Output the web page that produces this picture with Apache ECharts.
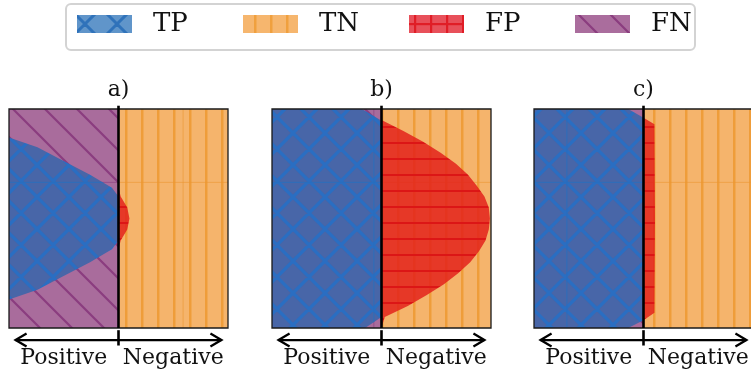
<!DOCTYPE html>
<html><head><meta charset="utf-8">
<script src="https://cdn.jsdelivr.net/npm/echarts@6/dist/echarts.min.js"></script>
<style>html,body{margin:0;padding:0;background:#fff}#chart{width:751px;height:376px}</style>
</head><body><div id="chart"></div>
<script>
// ---------- data ----------
const panelTitles = ['a)', 'b)', 'c)'];
const classNames = ['TP', 'TN', 'FP', 'FN'];
const sideLabels = ['Positive', 'Negative'];
// Boundary of the "predicted positive" region in each panel.
// y = vertical position (-1 bottom .. 1 top), x = horizontal extent (threshold at x = 0, -1 left edge, 1 right edge)
const boundaryAy = [0.74, 0.65, 0.53, 0.40, 0.28, 0.20, 0.10, 0.00, -0.10, -0.20, -0.28, -0.40, -0.53, -0.65, -0.74];
const boundaryAx = [-1.00, -0.74, -0.51, -0.26, -0.06, 0.02, 0.08, 0.10, 0.08, 0.02, -0.06, -0.26, -0.51, -0.74, -1.00];
const boundaryBy = [1.00, 0.90, 0.80, 0.70, 0.60, 0.50, 0.40, 0.30, 0.20, 0.10, 0.00, -0.10, -0.20, -0.30, -0.40, -0.50, -0.60, -0.70, -0.80, -0.90, -1.00];
const boundaryBx = [-0.18, -0.01, 0.20, 0.38, 0.54, 0.68, 0.79, 0.87, 0.94, 0.98, 0.99, 0.98, 0.95, 0.89, 0.81, 0.70, 0.57, 0.41, 0.24, 0.03, -0.15];
const boundaryCy = [1.00, 0.92, 0.86, 0.00, -0.86, -0.93, -1.00];
const boundaryCx = [-0.14, 0.00, 0.10, 0.105, 0.10, 0.00, -0.14];
// faint seam lines inside each panel
const seamX = [0.59, -0.07, -0.70];
const seamY = [0.33, 0.33, 0.33];
// arrow under each panel
const arrowSpan = [-0.94, 0.94];

// ---------- layout / style ----------
const FONT = '"DejaVu Serif", serif';
const panelLeft = [9, 272, 534];
const boundaries = [[boundaryAy, boundaryAx], [boundaryBy, boundaryBx], [boundaryCy, boundaryCx]];

function tile(w, h, bg, draw) {
  const c = document.createElement('canvas');
  c.width = w; c.height = h;
  const ctx = c.getContext('2d');
  ctx.fillStyle = bg; ctx.fillRect(0, 0, w, h);
  draw(ctx);
  return c;
}
function diagDown(ctx, c, s) { for (let k = -3; k <= 3; k++) { ctx.moveTo(c + s * k - 2 * s, -2 * s); ctx.lineTo(c + s * k + 2 * s, 2 * s); } }
function diagUp(ctx, c, s) { for (let k = -3; k <= 3; k++) { ctx.moveTo(c + s * k + 2 * s, -2 * s); ctx.lineTo(c + s * k - 2 * s, 2 * s); } }
const pat = c => ({ image: c, repeat: 'repeat' });

const fnTile = tile(32, 32, '#a96c9c', ctx => { ctx.strokeStyle = '#8b3d7f'; ctx.lineWidth = 2.2; ctx.beginPath(); diagDown(ctx, 0, 32); ctx.stroke(); });
const tnTile = tile(16, 16, '#f5b46c', ctx => { ctx.fillStyle = '#ef9d3a'; ctx.fillRect(13, 0, 2.5, 16); });
const tpTile = tile(32, 32, '#4866a8', ctx => { ctx.strokeStyle = '#2a6ec2'; ctx.lineWidth = 3.2; ctx.beginPath(); diagDown(ctx, 0, 32); diagUp(ctx, 10, 32); ctx.stroke(); });
const fpTile = tile(16, 16, 'rgba(226,32,26,0.84)', ctx => { ctx.fillStyle = '#dc1616'; ctx.fillRect(0, 14, 16, 2.2); });

const tpLeg = tile(32, 32, '#6095ca', ctx => { ctx.strokeStyle = '#2f72ba'; ctx.lineWidth = 3; ctx.beginPath(); diagDown(ctx, -1, 32); diagUp(ctx, 17, 32); ctx.stroke(); });
const tnLeg = tile(16, 16, '#f6b66e', ctx => { ctx.fillStyle = '#f0a03e'; ctx.fillRect(11, 0, 2.5, 16); });
const fpLeg = tile(16, 16, '#e8505a', ctx => { ctx.fillStyle = '#e01d26'; ctx.fillRect(5, 0, 2.2, 16); ctx.fillRect(0, 8, 16, 2.2); });
const fnLeg = tile(32, 32, '#aa6d9d', ctx => { ctx.strokeStyle = '#8b3d7f'; ctx.lineWidth = 2.2; ctx.beginPath(); diagDown(ctx, 4, 32); ctx.stroke(); });
const legendPatterns = { TP: pat(tpLeg), TN: pat(tnLeg), FP: pat(fpLeg), FN: pat(fnLeg) };

function rectShape(api, x0, y0, x1, y1) {
  const p = api.coord([x0, y0]), q = api.coord([x1, y1]);
  return { x: p[0], y: p[1], width: q[0] - p[0], height: q[1] - p[1] };
}
function seg(api, a, b, color, w) {
  const p = api.coord(a), q = api.coord(b);
  return { type: 'line', shape: { x1: p[0], y1: p[1], x2: q[0], y2: q[1] }, style: { stroke: color, lineWidth: w, fill: null } };
}
function regionPoly(i, lo, hi, edge) {
  const [ys, xs] = boundaries[i];
  const pts = ys.map((y, j) => [Math.min(hi, Math.max(lo, xs[j])), y]);
  pts.push([edge, ys[ys.length - 1]]);
  pts.push([edge, ys[0]]);
  return pts;
}

const series = [];
for (let i = 0; i < 3; i++) {
  const base = { type: 'custom', xAxisIndex: i, yAxisIndex: i, data: [[0, 0]], encode: { x: 0, y: 1 }, silent: true, clip: false, animation: false };
  // FN: left half background
  series.push(Object.assign({}, base, {
    name: 'FN', itemStyle: { color: legendPatterns.FN },
    renderItem: (params, api) => {
      const ch = [{ type: 'rect', shape: rectShape(api, -1, 1, 0, -1), style: { fill: pat(fnTile) } }];
      ch.push(seg(api, [-1, seamY[i]], [0, seamY[i]], 'rgba(139,61,127,0.6)', 1));
      if (seamX[i] < 0) ch.push(seg(api, [seamX[i], -1], [seamX[i], 1], 'rgba(139,61,127,0.6)', 1));
      return { type: 'group', children: ch };
    }
  }));
  // TN: right half background
  series.push(Object.assign({}, base, {
    name: 'TN', itemStyle: { color: legendPatterns.TN },
    renderItem: (params, api) => {
      const ch = [{ type: 'rect', shape: rectShape(api, 0, 1, 1, -1), style: { fill: pat(tnTile) } }];
      ch.push(seg(api, [0, seamY[i]], [1, seamY[i]], 'rgba(236,150,50,0.6)', 1));
      if (seamX[i] > 0) ch.push(seg(api, [seamX[i], -1], [seamX[i], 1], 'rgba(236,150,50,0.6)', 1));
      return { type: 'group', children: ch };
    }
  }));
  // TP: inside region, left of threshold
  series.push(Object.assign({}, base, {
    name: 'TP', itemStyle: { color: legendPatterns.TP },
    renderItem: (params, api) => {
      const pts = regionPoly(i, -1, 0, -1).map(p => api.coord(p));
      const lines = [seg(api, [-1, seamY[i]], [0, seamY[i]], 'rgba(40,110,190,0.85)', 1)];
      if (seamX[i] < 0) lines.push(seg(api, [seamX[i], -1], [seamX[i], 1], 'rgba(40,110,190,0.85)', 1));
      return { type: 'group', children: [
        { type: 'polygon', shape: { points: pts }, style: { fill: pat(tpTile) } },
        { type: 'group', clipPath: { type: 'polygon', shape: { points: pts } }, children: lines }
      ] };
    }
  }));
  // FP: inside region, right of threshold
  series.push(Object.assign({}, base, {
    name: 'FP', itemStyle: { color: legendPatterns.FP },
    renderItem: (params, api) => {
      const pts = regionPoly(i, 0, 1, 0).map(p => api.coord(p));
      return { type: 'polygon', shape: { points: pts }, style: { fill: pat(fpTile) } };
    }
  }));
  // frame, threshold, title, arrow
  series.push(Object.assign({}, base, {
    name: 'frame',
    renderItem: (params, api) => {
      const ch = [];
      ch.push({ type: 'rect', shape: rectShape(api, -1, 1, 1, -1), style: { fill: null, stroke: '#1a1a1a', lineWidth: 1.3 } });
      ch.push(seg(api, [0, 1.03], [0, -1.0], '#000', 2.6));
      const t = api.coord([0, 1.17]);
      ch.push({ type: 'text', x: t[0], y: t[1], style: { text: panelTitles[i], font: '22px ' + FONT, fill: '#111', align: 'center', verticalAlign: 'middle', textAlign: 'center', textVerticalAlign: 'middle' } });
      const a = api.coord([arrowSpan[0], -1.11]), b = api.coord([arrowSpan[1], -1.11]);
      ch.push({ type: 'line', shape: { x1: a[0], y1: a[1], x2: b[0], y2: b[1] }, style: { stroke: '#000', lineWidth: 2.3 } });
      ch.push({ type: 'polyline', shape: { points: [[a[0] + 11, a[1] - 6.5], [a[0], a[1]], [a[0] + 11, a[1] + 6.5]] }, style: { stroke: '#000', lineWidth: 2.3, fill: null } });
      ch.push({ type: 'polyline', shape: { points: [[b[0] - 11, b[1] - 6.5], [b[0], b[1]], [b[0] - 11, b[1] + 6.5]] }, style: { stroke: '#000', lineWidth: 2.3, fill: null } });
      ch.push(seg(api, [0, -1.02], [0, -1.16], '#000', 2.6));
      return { type: 'group', children: ch };
    }
  }));
}

const xAxes = [], yAxes = [];
for (let i = 0; i < 3; i++) {
  xAxes.push({ type: 'value', gridIndex: i, min: -1, max: 1, show: false, position: 'top' });
  yAxes.push({ type: 'value', gridIndex: i, min: -1, max: 1, show: false });
}
for (let i = 0; i < 3; i++) {
  xAxes.push({ type: 'category', gridIndex: i, data: sideLabels, position: 'bottom',
    axisLine: { show: false }, axisTick: { show: false }, splitLine: { show: false },
    axisLabel: { fontFamily: FONT, fontSize: 22, color: '#111', margin: 19, interval: 0 } });
}

const chart = echarts.init(document.getElementById('chart'), null, { renderer: 'canvas', width: 751, height: 376 });
chart.setOption({
  backgroundColor: '#fff',
  animation: false,
  graphic: [{ type: 'rect', shape: { x: 66, y: 4, width: 629, height: 46, r: 5 }, style: { fill: '#fff', stroke: '#d3d3d3', lineWidth: 2 }, z: 0, silent: true }],
  legend: {
    data: classNames.map(n => ({ name: n, itemStyle: { color: legendPatterns[n] } })),
    left: 77, top: 8.5, padding: 0, itemWidth: 55, itemHeight: 18, itemGap: 30,
    icon: 'rect', selectedMode: false, z: 5,
    itemStyle: { borderWidth: 0 },
    textStyle: { fontFamily: FONT, fontSize: 26, color: '#111', width: 60, lineHeight: 26, padding: [5, 0, 0, 16] }
  },
  grid: panelLeft.map(l => ({ left: l, top: 109, width: 219, height: 219, containLabel: false, outerBoundsMode: 'none' })),
  xAxis: xAxes,
  yAxis: yAxes,
  series: series
});
</script>
</body></html>
